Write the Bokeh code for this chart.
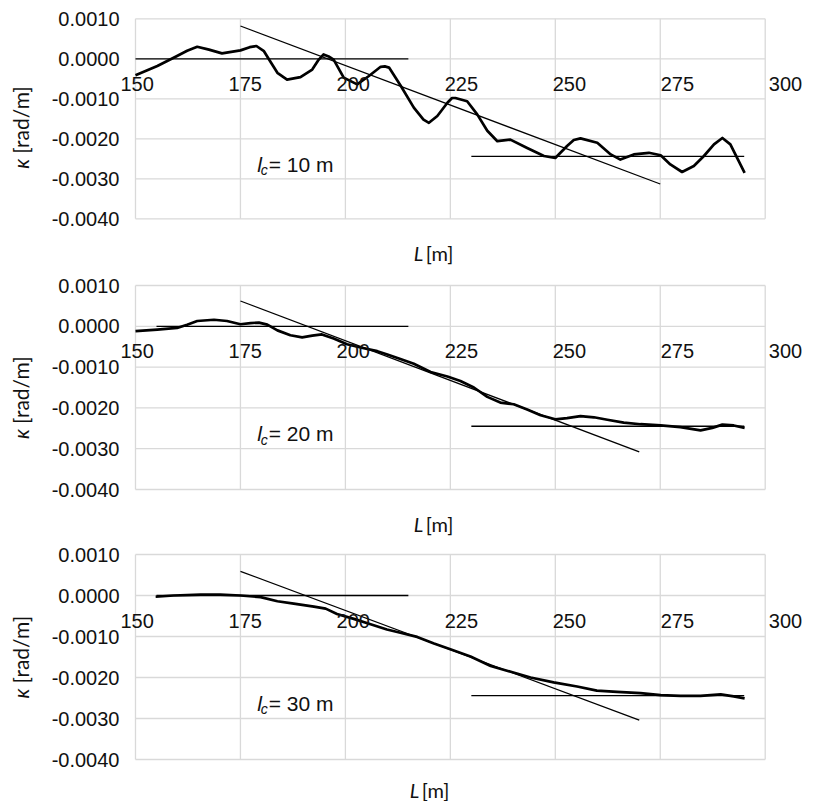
import math

from bokeh.embed import file_html
from bokeh.layouts import column
from bokeh.models import (FixedTicker, Label, LinearAxis,
                          NumeralTickFormatter, Range1d)
from bokeh.plotting import figure
from bokeh.resources import INLINE

# ---- axis ticks -----------------------------------------------------------
X_TICKS = [150, 175, 200, 225, 250, 275, 300]
Y_TICKS = [-0.004, -0.003, -0.002, -0.001, 0.0, 0.001]

# ---- curvature along the alignment, l_c = 10 m ---------------------------
L_10 = [150, 155.2, 159.9, 162.3, 164.7, 167.5, 170.6, 175, 177.2, 178.8,
        180.6, 182.3, 183.8, 186.1, 189.3, 192.1, 193.5, 194.8, 196.0, 197.2,
        199.6, 202.8, 205.6, 208.4, 209.4, 210.4, 213.1, 216.3, 218.6, 219.9,
        221.9, 224.3, 225.4, 226.2, 229.0, 231.4, 233.8, 236.2, 239.3, 243.3,
        247.3, 250.0, 252.8, 254.4, 256.0, 260.0, 263.2, 265.5, 268.7, 272.3,
        275.1, 277.4, 280.2, 283.0, 285.4, 287.8, 289.8, 291.7, 295.1]
K_10 = [-0.00041, -0.00018, 0.00007, 0.0002, 0.0003, 0.00023, 0.000135, 0.00021, 0.00029, 0.00032,
        0.00019, -0.0001, -0.00035, -0.00052, -0.00046, -0.00027, -0.00004, 0.00011, 0.00006, -0.00002,
        -0.00047, -0.00064, -0.00043, -0.0002, -0.00019, -0.00022, -0.00066, -0.00122, -0.00152, -0.0016,
        -0.00143, -0.0011, -0.00098, -0.00098, -0.00106, -0.00139, -0.0018, -0.00206, -0.00202, -0.00223,
        -0.00243, -0.00248, -0.00218, -0.00203, -0.00199, -0.0021, -0.00239, -0.00252, -0.00239, -0.00235,
        -0.00241, -0.00264, -0.00283, -0.00268, -0.00243, -0.00214, -0.00198, -0.00214, -0.00285]

# ---- l_c = 20 m -----------------------------------------------------------
L_20 = [150, 155.2, 159.9, 162.3, 164.7, 168.7, 171.8, 175, 177.4, 179.4,
        181.4, 183.8, 186.9, 189.7, 192.1, 194.4, 197.2, 200.4, 203.6, 207.6,
        210, 213.1, 216.3, 220.3, 224.3, 227.4, 230.6, 233.8, 236.9, 240.1,
        243.3, 246.5, 250, 252.8, 256, 259.2, 262.4, 266.3, 270.3, 275.1,
        279.8, 284.6, 287.4, 289.8, 292.5, 295.1]
K_20 = [-0.00012, -0.00008, -0.00004, 0.00004, 0.00013, 0.00016, 0.00013, 0.00005, 0.00008, 0.00009,
        0.00004, -0.0001, -0.00022, -0.00027, -0.00023, -0.0002, -0.0003, -0.00044, -0.00052, -0.00061,
        -0.00069, -0.0008, -0.00092, -0.00112, -0.00123, -0.00134, -0.0015, -0.00173, -0.00187, -0.00191,
        -0.00204, -0.00218, -0.00228, -0.00225, -0.0022, -0.00223, -0.00229, -0.00236, -0.0024, -0.00243,
        -0.00247, -0.00255, -0.00249, -0.00241, -0.00243, -0.00249]

# ---- l_c = 30 m -----------------------------------------------------------
L_30 = [154.8, 159.1, 165.5, 170.2, 175, 179.8, 183.8, 187.7, 192.5, 195.3,
        198.0, 202, 206, 209.9, 213.1, 217.1, 221.1, 225, 229.8, 234.6,
        239.4, 244.1, 249.6, 255.2, 259.9, 264.7, 270.3, 275.1, 279.8, 284.6,
        289.4, 292.5, 295.1]
K_30 = [-0.00003, 0.0, 0.00002, 0.00002, 0.0, -0.00004, -0.00014, -0.0002, -0.00027, -0.00032,
        -0.00045, -0.00057, -0.0007, -0.00083, -0.00091, -0.00101, -0.00117, -0.00131, -0.00149, -0.00172,
        -0.00186, -0.002, -0.00212, -0.00222, -0.00232, -0.00235, -0.00238, -0.00243, -0.00245, -0.00245,
        -0.00241, -0.00246, -0.00251]

# ---- fitted straight segments (tangent before, transition, tangent after) --
UPPER_L_10 = [150, 215]
UPPER_L_20 = [155, 215]
UPPER_L_30 = [155, 215]
UPPER_K = [0.0, 0.0]

SLOPE_L_10 = [175, 275]
SLOPE_K_10 = [0.00082, -0.00313]
SLOPE_L_20 = [175, 270]
SLOPE_K_20 = [0.00062, -0.00308]
SLOPE_L_30 = [175, 270]
SLOPE_K_30 = [0.00059, -0.00304]

LOWER_L = [230, 295]
LOWER_K_10 = [-0.00244, -0.00244]
LOWER_K_20 = [-0.00245, -0.00245]
LOWER_K_30 = [-0.00244, -0.00244]

PANEL_LABELS = ["10 m", "20 m", "30 m"]

# ---- styling ----------------------------------------------------------------
TICK_FONT = "Liberation Sans"
TITLE_FONT = "Lato"
TEXT_COLOR = "#111111"
GRID_COLOR = "#d9d9d9"
WIDTH = 817

# horizontal mapping: the 150 m gridline sits 135 px from the left edge
PX_PER_M = 104.95 / 25.0
X0_PX = 135.0
X_START = X_TICKS[0] - X0_PX / PX_PER_M
X_END = X_START + WIDTH / PX_PER_M

# tick labels of the distance axis use a slightly wider spacing
LAB_PER_PX = 150.0 / 648.3
LAB0_PX = 136.7
LAB_START = X_TICKS[0] - LAB0_PX * LAB_PER_PX
LAB_END = LAB_START + WIDTH * LAB_PER_PX


def make_panel(L, K, up_l, sl_l, sl_k, lo_k, label, height, top_px, px_per_unit,
               kappa_y, title_dx, title_dy):
    # the whole canvas is the plotting frame, so nothing is clipped
    y_top = Y_TICKS[-1] + top_px / px_per_unit
    y_bot = y_top - height / px_per_unit
    p = figure(frame_width=WIDTH, frame_height=height,
               x_range=Range1d(X_START, X_END), y_range=Range1d(y_bot, y_top),
               extra_x_ranges={"lab": Range1d(LAB_START, LAB_END)},
               x_axis_type=None, y_axis_type=None,
               min_border=0, min_border_left=0, min_border_right=0,
               min_border_top=0, min_border_bottom=0,
               output_backend="svg", toolbar_location=None,
               outline_line_color=None, background_fill_color="white",
               border_fill_color="white")

    # grid lines limited to the plotting box
    p.segment(x0=X_TICKS, x1=X_TICKS, y0=Y_TICKS[0], y1=Y_TICKS[-1],
              line_color=GRID_COLOR, line_width=1.3)
    p.segment(x0=X_TICKS[0], x1=X_TICKS[-1], y0=Y_TICKS, y1=Y_TICKS,
              line_color=GRID_COLOR, line_width=1.3)

    # y axis drawn along the 150 m gridline
    yax = LinearAxis(ticker=FixedTicker(ticks=Y_TICKS),
                     formatter=NumeralTickFormatter(format="0.0000"),
                     fixed_location=X_TICKS[0],
                     axis_line_color=None, major_tick_line_color=None,
                     minor_tick_line_color=None, major_tick_in=0, major_tick_out=0,
                     major_label_standoff=16,
                     major_label_text_font=TICK_FONT,
                     major_label_text_font_size="20px",
                     major_label_text_color=TEXT_COLOR)
    p.add_layout(yax, "left")

    # x tick labels, crossing at kappa = 0
    xax = LinearAxis(x_range_name="lab", ticker=FixedTicker(ticks=X_TICKS),
                     fixed_location=0.0,
                     axis_line_color=None, major_tick_line_color=None,
                     minor_tick_line_color=None, major_tick_in=0, major_tick_out=0,
                     major_label_standoff=18,
                     major_label_text_font=TICK_FONT,
                     major_label_text_font_size="20px",
                     major_label_text_color=TEXT_COLOR)
    p.add_layout(xax, "below")

    # fitted segments
    p.line(up_l, UPPER_K, line_color="black", line_width=1.3)
    p.line(sl_l, sl_k, line_color="black", line_width=1.3)
    p.line(LOWER_L, lo_k, line_color="black", line_width=1.3)

    # measured curvature
    p.line(L, K, line_color="black", line_width=2.7, line_join="round")

    # annotation  l_c = .. m
    ly = -0.00263
    lx = 179.0
    p.add_layout(Label(x=lx, y=ly, text="l", text_font=TICK_FONT,
                       text_font_style="italic", text_font_size="21px",
                       text_color=TEXT_COLOR, text_baseline="alphabetic"))
    p.add_layout(Label(x=lx, y=ly, x_offset=3.5, y_offset=-6, text="c",
                       text_font=TICK_FONT, text_font_style="italic",
                       text_font_size="14px", text_color=TEXT_COLOR,
                       text_baseline="alphabetic"))
    p.add_layout(Label(x=lx, y=ly, x_offset=11.5, text="= " + label,
                       text_font=TICK_FONT, text_font_size="21px",
                       text_color=TEXT_COLOR, text_baseline="alphabetic"))

    # x axis title  L [m]
    tx = X_TICKS[0] + (278.3 + title_dx) / PX_PER_M
    p.add_layout(Label(x=tx, y=Y_TICKS[0], y_offset=title_dy, text="L",
                       text_font=TITLE_FONT, text_font_style="italic",
                       text_font_size="20px", text_color=TEXT_COLOR,
                       text_baseline="alphabetic"))
    p.add_layout(Label(x=tx, y=Y_TICKS[0], x_offset=12, y_offset=title_dy, text="[m]",
                       text_font=TITLE_FONT, text_font_size="20px",
                       text_color=TEXT_COLOR, text_baseline="alphabetic"))

    # y axis title  κ [rad/m]
    kx = X_TICKS[0] - 115.0 / PX_PER_M
    p.add_layout(Label(x=kx, y=kappa_y, text="κ", angle=math.pi / 2,
                       text_font=TITLE_FONT, text_font_style="italic",
                       text_font_size="21px", text_color=TEXT_COLOR,
                       text_baseline="alphabetic", text_align="left"))
    p.add_layout(Label(x=kx, y=kappa_y, y_offset=15, text="[rad/m]", angle=math.pi / 2,
                       text_font=TITLE_FONT, text_font_size="21px",
                       text_color=TEXT_COLOR, text_baseline="alphabetic",
                       text_align="left"))
    return p


p1 = make_panel(L_10, K_10, UPPER_L_10, SLOPE_L_10, SLOPE_K_10, LOWER_K_10,
                PANEL_LABELS[0], 267, 18.3, 40000.0, -0.00275, 0, -34.5)
p2 = make_panel(L_20, K_20, UPPER_L_20, SLOPE_L_20, SLOPE_K_20, LOWER_K_20,
                PANEL_LABELS[1], 269, 18.0, 40800.0, -0.00276, 0, -34.0)
p3 = make_panel(L_30, K_30, UPPER_L_30, SLOPE_L_30, SLOPE_K_30, LOWER_K_30,
                PANEL_LABELS[2], 265, 18.0, 41000.0, -0.00251, -4, -30.0)

layout = column(p1, p2, p3, spacing=0)

with open("out.html", "w") as f:
    f.write(file_html(layout, INLINE, title="Curvature"))
